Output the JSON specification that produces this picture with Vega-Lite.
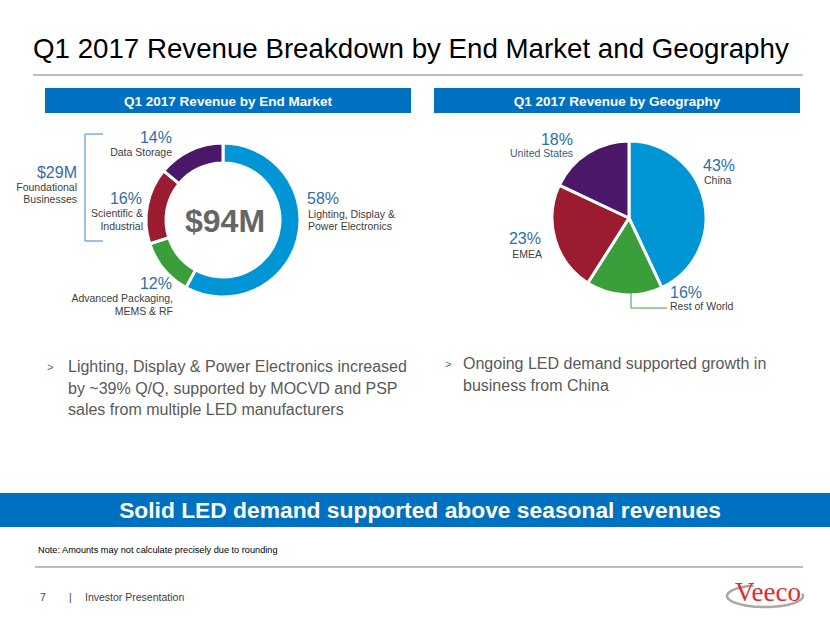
{
  "$schema": "https://vega.github.io/schema/vega-lite/v6.json",
  "width": 830,
  "height": 623,
  "autosize": {"type": "fit", "contains": "padding"},
  "padding": 0,
  "background": "white",
  "config": {"view": {"stroke": null}, "text": {"font": "Liberation Sans"}},
  "datasets": {
    "segments": [
      {"chart": "End Market", "segment": "Lighting, Display & Power Electronics", "label": "Lighting, Display &\nPower Electronics", "share": 0.58, "rank": 1},
      {"chart": "End Market", "segment": "Advanced Packaging, MEMS & RF", "label": "Advanced Packaging,\nMEMS & RF", "share": 0.12, "rank": 2},
      {"chart": "End Market", "segment": "Scientific & Industrial", "label": "Scientific &\nIndustrial", "share": 0.16, "rank": 3},
      {"chart": "End Market", "segment": "Data Storage", "label": "Data Storage", "share": 0.14, "rank": 4},
      {"chart": "Geography", "segment": "China", "label": "China", "share": 0.43, "rank": 1},
      {"chart": "Geography", "segment": "Rest of World", "label": "Rest of World", "share": 0.16, "rank": 2},
      {"chart": "Geography", "segment": "EMEA", "label": "EMEA", "share": 0.23, "rank": 3},
      {"chart": "Geography", "segment": "United States", "label": "United States", "share": 0.18, "rank": 4}
    ]
  },
  "data": {"values": [{}]},
  "layer": [
    {"mark": {"type": "text", "align": "left", "baseline": "alphabetic", "fontSize": 27.7, "color": "#000000"},
     "encoding": {"text": {"value": "Q1 2017 Revenue Breakdown by End Market and Geography"}, "x": {"value": 33}, "y": {"value": 58}}},
    {"mark": {"type": "rule", "stroke": "#A6A6A6", "strokeWidth": 1.5},
     "encoding": {"x": {"value": 33}, "x2": {"value": 803}, "y": {"value": 75}}},
    {"mark": {"type": "rect", "fill": "#0070C0"},
     "encoding": {"x": {"value": 45}, "x2": {"value": 411}, "y": {"value": 88}, "y2": {"value": 113}}},
    {"mark": {"type": "rect", "fill": "#0070C0"},
     "encoding": {"x": {"value": 434}, "x2": {"value": 800}, "y": {"value": 88}, "y2": {"value": 113}}},
    {"mark": {"type": "text", "align": "center", "baseline": "alphabetic", "fontSize": 13.5, "fontWeight": "bold", "color": "white"},
     "encoding": {"text": {"value": "Q1 2017 Revenue by End Market"}, "x": {"value": 228}, "y": {"value": 106}}},
    {"mark": {"type": "text", "align": "center", "baseline": "alphabetic", "fontSize": 13.5, "fontWeight": "bold", "color": "white"},
     "encoding": {"text": {"value": "Q1 2017 Revenue by Geography"}, "x": {"value": 617}, "y": {"value": 106}}},

    {"data": {"name": "segments"},
     "transform": [{"filter": {"field": "chart", "equal": "End Market"}}],
     "mark": {"type": "arc", "innerRadius": 57, "outerRadius": 77, "stroke": "white", "strokeWidth": 3},
     "encoding": {
       "theta": {"field": "share", "type": "quantitative", "stack": true},
       "order": {"field": "rank", "type": "quantitative"},
       "color": {"field": "segment", "type": "nominal", "legend": null,
         "scale": {"domain": ["Lighting, Display & Power Electronics", "Advanced Packaging, MEMS & RF", "Scientific & Industrial", "Data Storage", "China", "Rest of World", "EMEA", "United States"],
                   "range": ["#0096D6", "#3A9E3A", "#9B1B30", "#4B1869", "#0096D6", "#3A9E3A", "#9B1B30", "#4B1869"]}},
       "x": {"field": "chart", "type": "nominal", "axis": null, "scale": {"type": "point", "domain": ["End Market", "Geography"], "range": [223, 629], "padding": 0}},
       "y": {"field": "chart", "type": "nominal", "axis": null, "scale": {"type": "point", "domain": ["End Market", "Geography"], "range": [220, 218], "padding": 0}}
     }},
    {"data": {"name": "segments"},
     "transform": [{"filter": {"field": "chart", "equal": "Geography"}}],
     "mark": {"type": "arc", "innerRadius": 0, "outerRadius": 77, "stroke": "white", "strokeWidth": 3},
     "encoding": {
       "theta": {"field": "share", "type": "quantitative", "stack": true},
       "order": {"field": "rank", "type": "quantitative"},
       "color": {"field": "segment", "type": "nominal", "legend": null},
       "x": {"field": "chart", "type": "nominal", "axis": null},
       "y": {"field": "chart", "type": "nominal", "axis": null}
     }},

    {"mark": {"type": "text", "align": "center", "baseline": "alphabetic", "fontSize": 32, "fontWeight": "bold", "color": "#666666"},
     "encoding": {"text": {"value": "$94M"}, "x": {"value": 225}, "y": {"value": 232}}},
    {"mark": {"type": "text", "align": "right", "baseline": "alphabetic", "fontSize": 16, "color": "#2F6EA8"},
     "encoding": {"text": {"value": "$29M"}, "x": {"value": 77}, "y": {"value": 178}}},
    {"mark": {"type": "text", "align": "right", "baseline": "alphabetic", "fontSize": 10.5, "color": "#404040", "lineHeight": 12},
     "encoding": {"text": {"value": ["Foundational", "Businesses"]}, "x": {"value": 77}, "y": {"value": 191}}},
    {"mark": {"type": "rule", "stroke": "#5B9BD5", "strokeWidth": 1.2},
     "encoding": {"x": {"value": 85}, "y": {"value": 134}, "y2": {"value": 241}}},
    {"mark": {"type": "rule", "stroke": "#5B9BD5", "strokeWidth": 1.2},
     "encoding": {"x": {"value": 85}, "x2": {"value": 103}, "y": {"value": 134}}},
    {"mark": {"type": "rule", "stroke": "#5B9BD5", "strokeWidth": 1.2},
     "encoding": {"x": {"value": 85}, "x2": {"value": 103}, "y": {"value": 241}}},

    {"data": {"name": "segments"}, "transform": [{"filter": {"field": "segment", "equal": "Lighting, Display & Power Electronics"}}],
     "mark": {"type": "text", "align": "left", "baseline": "alphabetic", "fontSize": 16, "color": "#2F6EA8"},
     "encoding": {"text": {"field": "share", "format": ".0%"}, "x": {"value": 307}, "y": {"value": 204}}},
    {"data": {"name": "segments"}, "transform": [{"filter": {"field": "segment", "equal": "Lighting, Display & Power Electronics"}}],
     "mark": {"type": "text", "align": "left", "baseline": "alphabetic", "fontSize": 10.5, "color": "#404040", "lineBreak": "\n", "lineHeight": 12.5},
     "encoding": {"text": {"field": "label"}, "x": {"value": 308}, "y": {"value": 217.5}}},
    {"data": {"name": "segments"}, "transform": [{"filter": {"field": "segment", "equal": "Data Storage"}}],
     "mark": {"type": "text", "align": "right", "baseline": "alphabetic", "fontSize": 16, "color": "#2F6EA8"},
     "encoding": {"text": {"field": "share", "format": ".0%"}, "x": {"value": 172}, "y": {"value": 143}}},
    {"data": {"name": "segments"}, "transform": [{"filter": {"field": "segment", "equal": "Data Storage"}}],
     "mark": {"type": "text", "align": "right", "baseline": "alphabetic", "fontSize": 10.5, "color": "#404040", "lineBreak": "\n", "lineHeight": 12.5},
     "encoding": {"text": {"field": "label"}, "x": {"value": 172}, "y": {"value": 156}}},
    {"data": {"name": "segments"}, "transform": [{"filter": {"field": "segment", "equal": "Scientific & Industrial"}}],
     "mark": {"type": "text", "align": "right", "baseline": "alphabetic", "fontSize": 16, "color": "#2F6EA8"},
     "encoding": {"text": {"field": "share", "format": ".0%"}, "x": {"value": 142}, "y": {"value": 204}}},
    {"data": {"name": "segments"}, "transform": [{"filter": {"field": "segment", "equal": "Scientific & Industrial"}}],
     "mark": {"type": "text", "align": "right", "baseline": "alphabetic", "fontSize": 10.5, "color": "#404040", "lineBreak": "\n", "lineHeight": 12.5},
     "encoding": {"text": {"field": "label"}, "x": {"value": 143}, "y": {"value": 217}}},
    {"data": {"name": "segments"}, "transform": [{"filter": {"field": "segment", "equal": "Advanced Packaging, MEMS & RF"}}],
     "mark": {"type": "text", "align": "right", "baseline": "alphabetic", "fontSize": 16, "color": "#2F6EA8"},
     "encoding": {"text": {"field": "share", "format": ".0%"}, "x": {"value": 172}, "y": {"value": 289}}},
    {"data": {"name": "segments"}, "transform": [{"filter": {"field": "segment", "equal": "Advanced Packaging, MEMS & RF"}}],
     "mark": {"type": "text", "align": "right", "baseline": "alphabetic", "fontSize": 10.5, "color": "#404040", "lineBreak": "\n", "lineHeight": 12.5},
     "encoding": {"text": {"field": "label"}, "x": {"value": 173}, "y": {"value": 302}}},

    {"data": {"name": "segments"}, "transform": [{"filter": {"field": "segment", "equal": "China"}}],
     "mark": {"type": "text", "align": "left", "baseline": "alphabetic", "fontSize": 16, "color": "#2F6EA8"},
     "encoding": {"text": {"field": "share", "format": ".0%"}, "x": {"value": 703}, "y": {"value": 171}}},
    {"data": {"name": "segments"}, "transform": [{"filter": {"field": "segment", "equal": "China"}}],
     "mark": {"type": "text", "align": "left", "baseline": "alphabetic", "fontSize": 10.5, "color": "#404040"},
     "encoding": {"text": {"field": "label"}, "x": {"value": 704}, "y": {"value": 184}}},
    {"data": {"name": "segments"}, "transform": [{"filter": {"field": "segment", "equal": "United States"}}],
     "mark": {"type": "text", "align": "right", "baseline": "alphabetic", "fontSize": 16, "color": "#2F6EA8"},
     "encoding": {"text": {"field": "share", "format": ".0%"}, "x": {"value": 573}, "y": {"value": 145}}},
    {"data": {"name": "segments"}, "transform": [{"filter": {"field": "segment", "equal": "United States"}}],
     "mark": {"type": "text", "align": "right", "baseline": "alphabetic", "fontSize": 10.5, "color": "#3B5B82"},
     "encoding": {"text": {"field": "label"}, "x": {"value": 573}, "y": {"value": 157}}},
    {"data": {"name": "segments"}, "transform": [{"filter": {"field": "segment", "equal": "EMEA"}}],
     "mark": {"type": "text", "align": "right", "baseline": "alphabetic", "fontSize": 16, "color": "#2F6EA8"},
     "encoding": {"text": {"field": "share", "format": ".0%"}, "x": {"value": 541}, "y": {"value": 244}}},
    {"data": {"name": "segments"}, "transform": [{"filter": {"field": "segment", "equal": "EMEA"}}],
     "mark": {"type": "text", "align": "right", "baseline": "alphabetic", "fontSize": 10.5, "color": "#404040"},
     "encoding": {"text": {"field": "label"}, "x": {"value": 542}, "y": {"value": 258}}},
    {"data": {"name": "segments"}, "transform": [{"filter": {"field": "segment", "equal": "Rest of World"}}],
     "mark": {"type": "text", "align": "left", "baseline": "alphabetic", "fontSize": 16, "color": "#2F6EA8"},
     "encoding": {"text": {"field": "share", "format": ".0%"}, "x": {"value": 670}, "y": {"value": 298}}},
    {"data": {"name": "segments"}, "transform": [{"filter": {"field": "segment", "equal": "Rest of World"}}],
     "mark": {"type": "text", "align": "left", "baseline": "alphabetic", "fontSize": 10.5, "color": "#404040"},
     "encoding": {"text": {"field": "label"}, "x": {"value": 670}, "y": {"value": 310}}},
    {"mark": {"type": "rule", "stroke": "#3A9E3A", "strokeWidth": 1},
     "encoding": {"x": {"value": 631}, "y": {"value": 289}, "y2": {"value": 308}}},
    {"mark": {"type": "rule", "stroke": "#3A9E3A", "strokeWidth": 1},
     "encoding": {"x": {"value": 631}, "x2": {"value": 667}, "y": {"value": 308}}},

    {"mark": {"type": "text", "align": "left", "baseline": "alphabetic", "fontSize": 11, "color": "#2F6EA8"},
     "encoding": {"text": {"value": ">"}, "x": {"value": 47}, "y": {"value": 371}}},
    {"mark": {"type": "text", "align": "left", "baseline": "alphabetic", "fontSize": 16, "color": "#595959", "lineHeight": 21.5},
     "encoding": {"text": {"value": ["Lighting, Display & Power Electronics increased", "by ~39% Q/Q, supported by MOCVD and PSP", "sales from multiple LED manufacturers"]}, "x": {"value": 68}, "y": {"value": 372}}},
    {"mark": {"type": "text", "align": "left", "baseline": "alphabetic", "fontSize": 11, "color": "#2F6EA8"},
     "encoding": {"text": {"value": ">"}, "x": {"value": 445}, "y": {"value": 368}}},
    {"mark": {"type": "text", "align": "left", "baseline": "alphabetic", "fontSize": 16, "color": "#595959", "lineHeight": 22},
     "encoding": {"text": {"value": ["Ongoing LED demand supported growth in", "business from China"]}, "x": {"value": 463}, "y": {"value": 369}}},

    {"mark": {"type": "rect", "fill": "#0070C0"},
     "encoding": {"x": {"value": 0}, "x2": {"value": 830}, "y": {"value": 493}, "y2": {"value": 527}}},
    {"mark": {"type": "text", "align": "center", "baseline": "alphabetic", "fontSize": 22.8, "fontWeight": "bold", "color": "white"},
     "encoding": {"text": {"value": "Solid LED demand supported above seasonal revenues"}, "x": {"value": 420}, "y": {"value": 518}}},
    {"mark": {"type": "text", "align": "left", "baseline": "alphabetic", "fontSize": 9.2, "color": "#000000"},
     "encoding": {"text": {"value": "Note: Amounts may not calculate precisely due to rounding"}, "x": {"value": 38}, "y": {"value": 553}}},
    {"mark": {"type": "rule", "stroke": "#A6A6A6", "strokeWidth": 1.5},
     "encoding": {"x": {"value": 35}, "x2": {"value": 803}, "y": {"value": 567}}},
    {"mark": {"type": "text", "align": "left", "baseline": "alphabetic", "fontSize": 10.5, "color": "#404040"},
     "encoding": {"text": {"value": "7"}, "x": {"value": 40}, "y": {"value": 601}}},
    {"mark": {"type": "text", "align": "left", "baseline": "alphabetic", "fontSize": 10.5, "color": "#404040"},
     "encoding": {"text": {"value": "|"}, "x": {"value": 69}, "y": {"value": 601}}},
    {"mark": {"type": "text", "align": "left", "baseline": "alphabetic", "fontSize": 10.5, "color": "#404040"},
     "encoding": {"text": {"value": "Investor Presentation"}, "x": {"value": 85}, "y": {"value": 601}}},
    {"mark": {"type": "point", "shape": "M -0.3,-0.277 A 1,0.29 0 1,0 0.98,-0.058", "filled": false, "stroke": "#A8A8A8", "strokeWidth": 2.5, "size": 5776, "opacity": 1},
     "encoding": {"x": {"value": 765}, "y": {"value": 596}}},
    {"mark": {"type": "text", "align": "center", "baseline": "alphabetic", "fontSize": 27, "color": "#E8262B", "font": "Liberation Serif"},
     "encoding": {"text": {"value": "Veeco"}, "x": {"value": 768}, "y": {"value": 601}}}
  ]
}
